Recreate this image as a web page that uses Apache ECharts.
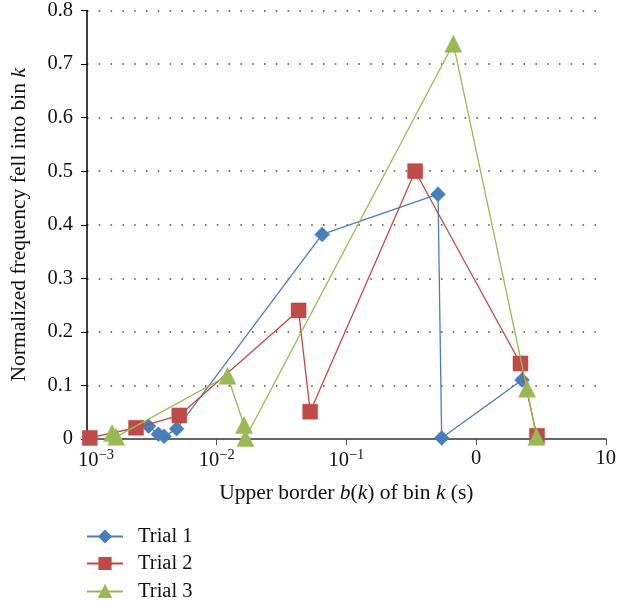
<!DOCTYPE html>
<html>
<head>
<meta charset="utf-8">
<script src="https://cdn.jsdelivr.net/npm/echarts@6/dist/echarts.min.js"></script>
<style>
html,body{margin:0;padding:0;background:#fff;}
#chart{width:619px;height:602px;}
</style>
</head>
<body>
<div id="chart"></div>
<script>
// Data
const seriesNames = ['Trial 1', 'Trial 2', 'Trial 3'];
const trial1X = [0.00298, 0.00355, 0.00393, 0.00491, 0.0651, 0.509, 0.543, 2.26];
const trial1Y = [0.024, 0.009, 0.005, 0.019, 0.382, 0.457, 0.002, 0.110];
const trial2X = [0.00105, 0.00239, 0.00515, 0.0428, 0.0526, 0.339, 2.20, 2.95];
const trial2Y = [0.002, 0.021, 0.044, 0.240, 0.051, 0.500, 0.141, 0.006];
const trial3X = [0.00156, 0.00168, 0.0121, 0.01625, 0.01666, 0.668, 2.47, 2.92];
const trial3Y = [0.011, 0.004, 0.118, 0.026, 0.002, 0.738, 0.094, 0.004];
const xTickValues = [0.001, 0.01, 0.1, 1, 10];
const xTickLabels = ['10{s|\u22123}', '10{s|\u22122}', '10{s|\u22121}', '0', '10'];
const yTicks = [0, 0.1, 0.2, 0.3, 0.4, 0.5, 0.6, 0.7, 0.8];

const FONT = '"Liberation Serif", "DejaVu Serif", serif';
const colors = ['#4A7EBB', '#BE4B48', '#98B954'];
const symbols = ['diamond', 'rect', 'triangle'];
const symbolSizes = [15, 15, 17];
const legendTops = [526, 553, 581];

function pairs(xs, ys) { return xs.map((x, i) => [x, ys[i]]); }
const allData = [pairs(trial1X, trial1Y), pairs(trial2X, trial2Y), pairs(trial3X, trial3Y)];

const chart = echarts.init(document.getElementById('chart'), null, {renderer: 'canvas'});
chart.setOption({
  animation: false,
  backgroundColor: '#ffffff',
  textStyle: {fontFamily: FONT},
  grid: {left: 87, right: 12, top: 10, bottom: 163, containLabel: false},
  legend: seriesNames.map((n, i) => ({
    orient: 'horizontal',
    left: 86,
    top: legendTops[i],
    padding: 0,
    itemWidth: 36,
    itemHeight: 14,
    textStyle: {fontFamily: FONT, fontSize: 20.5, lineHeight: 18, color: '#111', padding: [0, 0, 0, 10]},
    data: [n]
  })),
  xAxis: {
    type: 'log',
    logBase: 10,
    min: 0.001,
    max: 10,
    name: 'Upper border {i|b}({i|k}) of bin {i|k} (s)',
    nameLocation: 'middle',
    nameGap: 43,
    nameTextStyle: {
      fontFamily: FONT, fontSize: 21.5, color: '#111',
      rich: {i: {fontFamily: FONT, fontSize: 21.5, fontStyle: 'italic', color: '#111'}}
    },
    axisLine: {show: true, lineStyle: {color: '#666', width: 2}},
    axisTick: {show: true, length: 6, lineStyle: {color: '#555', width: 1}},
    minorTick: {show: false},
    splitLine: {show: false},
    axisLabel: {
      margin: 9,
      fontFamily: FONT, fontSize: 20.5, color: '#111',
      formatter: function (v) {
        for (let i = 0; i < xTickValues.length; i++) {
          if (Math.abs(Math.log10(v) - Math.log10(xTickValues[i])) < 1e-6) {
            return (i === 0 ? '{pad|}' : '') + xTickLabels[i];
          }
        }
        return '';
      },
      rich: {
        s: {fontFamily: FONT, fontSize: 14.5, color: '#111', padding: [0, 0, 10, 0]},
        pad: {width: 18}
      }
    }
  },
  yAxis: {
    type: 'value',
    min: 0,
    max: 0.8,
    interval: 0.1,
    name: 'Normalized frequency fell into bin {i|k}',
    nameLocation: 'middle',
    nameGap: 57,
    nameRotate: 90,
    nameTextStyle: {
      fontFamily: FONT, fontSize: 21.5, color: '#111',
      rich: {i: {fontFamily: FONT, fontSize: 21.5, fontStyle: 'italic', color: '#111'}}
    },
    axisLine: {show: true, lineStyle: {color: '#000', width: 1.5}},
    axisTick: {show: true, length: 6, inside: false, lineStyle: {color: '#000', width: 1}},
    axisLabel: {
      margin: 14,
      fontFamily: FONT, fontSize: 20.5, color: '#111',
      formatter: function (v) { return v === 0 ? '0' : v.toFixed(1); }
    },
    splitLine: {show: true, lineStyle: {color: '#444', width: 1.5, type: [1.5, 10.3]}}
  },
  series: seriesNames.map((n, i) => ({
    name: n,
    type: 'line',
    data: allData[i],
    symbol: symbols[i],
    symbolSize: symbolSizes[i],
    showAllSymbol: true,
    clip: false,
    lineStyle: {color: colors[i], width: 1.3},
    itemStyle: {color: colors[i], borderColor: colors[i], borderWidth: 0.5, opacity: 1},
    emphasis: {disabled: true},
    z: 2 + i
  }))
});
</script>
</body>
</html>
